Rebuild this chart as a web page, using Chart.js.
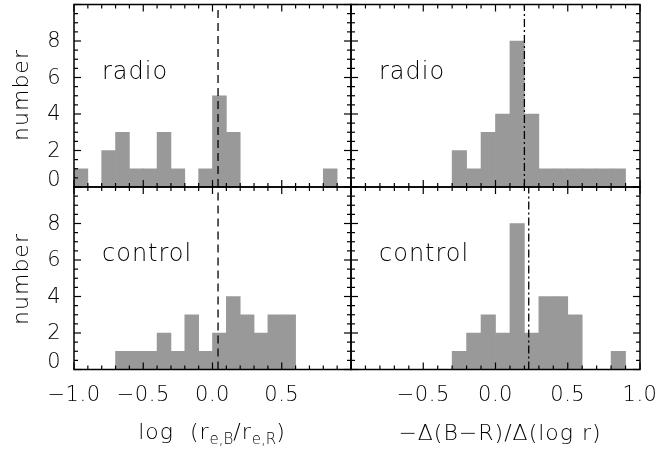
<!DOCTYPE html>
<html lang="en">
<head>
    <meta charset="UTF-8">
    <title>Histogramas radio / control</title>
    <script src="https://cdn.jsdelivr.net/npm/chart.js"></script>
    <style>
        body {
            margin: 0;
            background-color: #ffffff;
        }
        #lienzo {
            position: relative;
            width: 662px;
            height: 457px;
            font-family: "DejaVu Sans", sans-serif;
            color: #000;
        }
        #lienzo canvas {
            position: absolute;
            left: 0;
            top: 0;
        }
        .titulo {
            position: absolute;
            font-size: 22px;
            font-weight: 200;
            letter-spacing: 1px;
            white-space: nowrap;
            transform: translate(-50%, -50%);
        }
        .titulo sub {
            font-size: 15px;
            letter-spacing: 0;
            vertical-align: -5px;
        }
        .vertical {
            transform: translate(-50%, -50%) rotate(-90deg);
        }
    </style>
</head>
<body>
    <div id="lienzo">
        <canvas id="g1" width="662" height="457"></canvas>
        <canvas id="g2" width="662" height="457"></canvas>
        <canvas id="g3" width="662" height="457"></canvas>
        <canvas id="g4" width="662" height="457"></canvas>

        <div class="titulo vertical" style="left:20px; top:95px;">number</div>
        <div class="titulo vertical" style="left:20px; top:279px;">number</div>
        <div class="titulo" style="left:212px; top:433px;">log &nbsp;(r<sub>e,B</sub>/r<sub>e,R</sub>)</div>
        <div class="titulo" style="left:500px; top:432px;">&minus;&Delta;(B&minus;R)/&Delta;(log r)</div>
    </div>

    <script>
        // centros de los bins (ancho 0.1) comunes a los cuatro histogramas
        const binCenters = [-0.95, -0.85, -0.75, -0.65, -0.55, -0.45, -0.35, -0.25, -0.15, -0.05,
                            0.05, 0.15, 0.25, 0.35, 0.45, 0.55, 0.65, 0.75, 0.85, 0.95];

        // cuentas por bin
        const radioSize    = [1, 0, 2, 3, 1, 1, 3, 1, 0, 1, 5, 3, 0, 0, 0, 0, 0, 0, 1, 0];
        const controlSize  = [0, 0, 0, 1, 1, 1, 2, 1, 3, 1, 2, 4, 3, 2, 3, 3, 0, 0, 0, 0];
        const radioGrad    = [0, 0, 0, 0, 0, 0, 0, 2, 1, 3, 4, 8, 4, 1, 1, 1, 1, 1, 1, 0];
        const controlGrad  = [0, 0, 0, 0, 0, 0, 0, 1, 2, 3, 2, 8, 2, 4, 4, 3, 0, 0, 1, 0];

        // posicion de las lineas verticales (medianas)
        const medianas = [0.04, 0.2, 0.04, 0.23];

        // etiquetas
        const panelLabels = ['radio', 'radio', 'control', 'control'];
        const yTickLabels = [0, 2, 4, 6, 8];
        const xTickLabelsLeft = [-1.0, -0.5, 0.0, 0.5];
        const xTickLabelsRight = [-0.5, 0.0, 0.5, 1.0];

        // disposicion de los paneles (izq, arriba, der, abajo)
        const paneles = [
            { id: 'g1', area: [74, 4.5, 351, 187], cuentas: radioSize, dash: [8, 5], yLab: true, xLab: null },
            { id: 'g2', area: [351, 4.5, 640, 187], cuentas: radioGrad, dash: [8, 3, 2, 3], yLab: false, xLab: null },
            { id: 'g3', area: [74, 187, 351, 369.5], cuentas: controlSize, dash: [8, 5], yLab: true, xLab: xTickLabelsLeft },
            { id: 'g4', area: [351, 187, 640, 369.5], cuentas: controlGrad, dash: [8, 3, 2, 3], yLab: false, xLab: xTickLabelsRight }
        ];

        const fuente = '200 21px "DejaVu Sans", sans-serif';

        function formato(v) {
            return v.toFixed(1).replace('-', '\u2212');
        }

        function linea(c, x1, y1, x2, y2) {
            c.beginPath();
            c.moveTo(x1, y1);
            c.lineTo(x2, y2);
            c.stroke();
        }

        const marco = {
            id: 'marco',
            afterDraw(chart, args, opts) {
                const c = chart.ctx;
                const a = chart.chartArea;
                const sx = chart.scales.x;
                const sy = chart.scales.y;
                c.save();
                c.strokeStyle = '#000';
                c.fillStyle = '#000';
                c.lineWidth = 1.5;
                c.strokeRect(a.left, a.top, a.right - a.left, a.bottom - a.top);

                c.lineWidth = 1.2;
                for (let k = -10; k <= 10; k++) {
                    const px = sx.getPixelForValue(k / 10);
                    const largo = k % 5 === 0 ? 7 : 4;
                    linea(c, px, a.bottom, px, a.bottom - largo);
                    linea(c, px, a.top, px, a.top + largo);
                }
                for (let k = 0; k <= 20; k++) {
                    const py = sy.getPixelForValue(k / 2);
                    const largo = k % 4 === 0 ? 7 : 4;
                    linea(c, a.left, py, a.left + largo, py);
                    linea(c, a.right, py, a.right - largo, py);
                }

                c.font = fuente;
                c.letterSpacing = '0.5px';
                if (opts.yLab) {
                    c.textAlign = 'right';
                    yTickLabels.forEach(v => {
                        const py = sy.getPixelForValue(v);
                        if (v === 0) {
                            c.textBaseline = 'bottom';
                            c.fillText(String(v), a.left - 13, py + 4);
                        } else {
                            c.textBaseline = 'middle';
                            c.fillText(String(v), a.left - 13, py + 1);
                        }
                    });
                }
                if (opts.xLab) {
                    c.textAlign = 'center';
                    c.textBaseline = 'middle';
                    opts.xLab.forEach(v => {
                        c.fillText(formato(v), sx.getPixelForValue(v), a.bottom + 26);
                    });
                }

                c.textAlign = 'left';
                c.textBaseline = 'alphabetic';
                c.font = '200 24px "DejaVu Sans", sans-serif';
                c.letterSpacing = '1px';
                c.fillText(opts.texto, a.left + 28, a.top + 74);
                c.restore();
            }
        };

        document.addEventListener('DOMContentLoaded', function () {
            paneles.forEach((p, i) => {
                const ctx = document.getElementById(p.id).getContext('2d');
                new Chart(ctx, {
                    data: {
                        datasets: [
                            {
                                type: 'line',
                                data: [{ x: medianas[i], y: 0 }, { x: medianas[i], y: 10 }],
                                borderColor: '#000000',
                                borderWidth: 1.3,
                                borderDash: p.dash,
                                pointRadius: 0,
                                fill: false,
                                order: 0
                            },
                            {
                                type: 'bar',
                                data: binCenters.map((x, j) => ({ x: x, y: p.cuentas[j] || null })),
                                backgroundColor: '#999999',
                                borderWidth: 0,
                                barPercentage: 1.0,
                                categoryPercentage: 1.0,
                                order: 1
                            }
                        ]
                    },
                    options: {
                        responsive: false,
                        animation: false,
                        devicePixelRatio: 1,
                        layout: {
                            padding: {
                                left: p.area[0],
                                top: p.area[1],
                                right: 662 - p.area[2],
                                bottom: 457 - p.area[3]
                            }
                        },
                        scales: {
                            x: { type: 'linear', min: -1, max: 1, offset: false, display: false },
                            y: { type: 'linear', min: 0, max: 10, display: false }
                        },
                        plugins: {
                            legend: { display: false },
                            tooltip: { enabled: false },
                            marco: { yLab: p.yLab, xLab: p.xLab, texto: panelLabels[i] }
                        }
                    },
                    plugins: [marco]
                });
            });
        });
    </script>
</body>
</html>
